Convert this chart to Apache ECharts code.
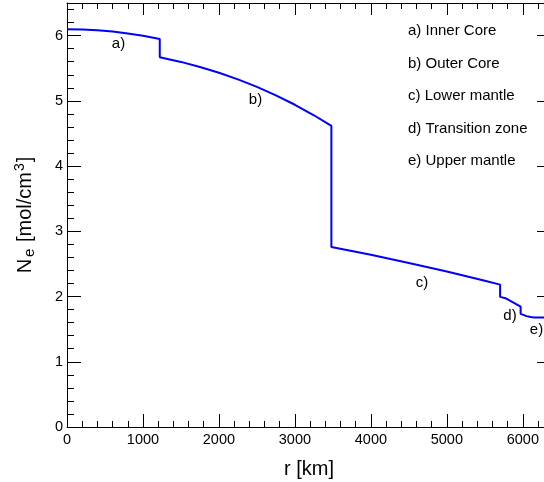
<!DOCTYPE html>
<html>
<head>
<meta charset="utf-8">
<script src="https://cdn.jsdelivr.net/npm/echarts@6/dist/echarts.min.js"></script>
<style>
  html, body { margin: 0; padding: 0; background: #fff; }
  #chart { width: 544px; height: 482px; }
</style>
</head>
<body>
<div id="chart"></div>
<script>
// Electron number density N_e through the Earth, shell by shell (r in km, N_e in mol/cm^3)
const innerCoreR  = [0, 200, 400, 600, 800, 1000, 1221];
const innerCoreNe = [6.099, 6.095, 6.083, 6.063, 6.034, 5.998, 5.948];

const outerCoreR  = [1221, 1500, 1750, 2000, 2250, 2500, 2750, 3000, 3250, 3480];
const outerCoreNe = [5.669, 5.597, 5.520, 5.431, 5.330, 5.215, 5.085, 4.940, 4.779, 4.615];

const lowerMantleR  = [3480, 4000, 4500, 5000, 5500, 5701];
const lowerMantleNe = [2.760, 2.640, 2.515, 2.383, 2.241, 2.183];

const transitionR  = [5701, 5771, 5871, 5971];
const transitionNe = [1.995, 1.975, 1.912, 1.846];

const upperMantleR  = [5971, 6050, 6100, 6151, 6291, 6371];
const upperMantleNe = [1.735, 1.700, 1.685, 1.680, 1.680, 1.680];

const shellLabels = ['a) Inner Core', 'b) Outer Core', 'c) Lower mantle', 'd) Transition zone', 'e) Upper mantle'];
const curveTags = ['a)', 'b)', 'c)', 'd)', 'e)'];

const xTickLabels = ['0', '1000', '2000', '3000', '4000', '5000', '6000'];
const yTickLabels = ['0', '1', '2', '3', '4', '5', '6'];

// One continuous polyline; consecutive shells share a radius, which draws the jumps
const shells = [
  [innerCoreR, innerCoreNe],
  [outerCoreR, outerCoreNe],
  [lowerMantleR, lowerMantleNe],
  [transitionR, transitionNe],
  [upperMantleR, upperMantleNe]
];
const curve = [];
shells.forEach(([rs, ns]) => rs.forEach((r, i) => curve.push([r, ns[i]])));

const FONT = '"Liberation Sans", Arial, Helvetica, sans-serif';
const INK = '#000';
const thin = { color: INK, width: 1 };

// Frame axis: major ticks every `interval`, five minor divisions, all pointing inward
function frameAxis(opts, major, minor) {
  return Object.assign({
    type: 'value', gridIndex: 0,
    splitLine: { show: false },
    axisLine: { show: true, onZero: false, lineStyle: thin },
    axisTick: { show: true, inside: true, length: major, lineStyle: thin },
    minorTick: { show: true, splitNumber: 5, length: minor, lineStyle: thin },
    axisLabel: { show: false }
  }, opts);
}

const chart = echarts.init(document.getElementById('chart'), null, { renderer: 'canvas' });

const option = {
  animation: false,
  backgroundColor: '#fff',
  grid: { left: 67, right: -7, top: 3, bottom: 55, containLabel: false, outerBoundsMode: 'none' },
  xAxis: [
    frameAxis({
      position: 'bottom', min: 0, max: 6371, interval: 1000,
      axisLabel: {
        show: true, margin: 5, color: INK, fontSize: 14.5, fontFamily: FONT,
        showMaxLabel: false,
        formatter: v => { const i = Math.round(v / 1000); return (v % 1000 === 0 && xTickLabels[i] !== undefined) ? xTickLabels[i] : ''; }
      },
      name: 'r [km]', nameLocation: 'middle', nameGap: 32,
      nameTextStyle: { fontSize: 20, fontFamily: FONT, color: INK }
    }, 13, 6),
    frameAxis({ position: 'top', min: 0, max: 6371, interval: 1000 }, 12, 6)
  ],
  yAxis: [
    frameAxis({
      position: 'left', min: 0, max: 6.5, interval: 1,
      axisLabel: {
        show: true, margin: 4, color: INK, fontSize: 14.5, fontFamily: FONT,
        showMaxLabel: false,
        formatter: v => { const i = Math.round(v); return (Math.abs(v - i) < 1e-9 && yTickLabels[i] !== undefined) ? yTickLabels[i] : ''; }
      },
      name: '{n|N}{s|e}{n| [mol/cm}{p|3}{n|]}',
      nameLocation: 'middle', nameGap: 30,
      nameTextStyle: {
        fontSize: 20, fontFamily: FONT, color: INK,
        rich: {
          n: { fontSize: 20, fontFamily: FONT, color: INK, lineHeight: 24 },
          s: { fontSize: 15, fontFamily: FONT, color: INK, lineHeight: 15, verticalAlign: 'bottom', padding: [0, 1, 0, 2] },
          p: { fontSize: 14, fontFamily: FONT, color: INK, lineHeight: 14, verticalAlign: 'top', padding: [0, 1, 0, 1] }
        }
      }
    }, 14, 7),
    frameAxis({ position: 'right', min: 0, max: 6.5, interval: 1 }, 14, 7)
  ],
  series: [{
    type: 'line',
    xAxisIndex: 0, yAxisIndex: 0,
    data: curve,
    symbol: 'none',
    smooth: false,
    lineStyle: { color: '#0000ff', width: 2 },
    silent: true
  }],
  graphic: [
    // shell key in the upper right
    ...shellLabels.map((t, i) => ({
      type: 'text', x: 408, y: 31 + i * 32.5, silent: true,
      style: { text: t, fill: INK, fontSize: 15, fontFamily: FONT, align: 'left', verticalAlign: 'middle' }
    })),
    // tags placed beside each shell of the curve
    ...[[118.5, 43.5], [255.5, 99.5], [422, 282.5], [510, 316], [536.5, 330]].map((p, i) => ({
      type: 'text', x: p[0], y: p[1], silent: true,
      style: { text: curveTags[i], fill: INK, fontSize: 15, fontFamily: FONT, align: 'center', verticalAlign: 'middle' }
    }))
  ]
};

chart.setOption(option);
</script>
</body>
</html>
